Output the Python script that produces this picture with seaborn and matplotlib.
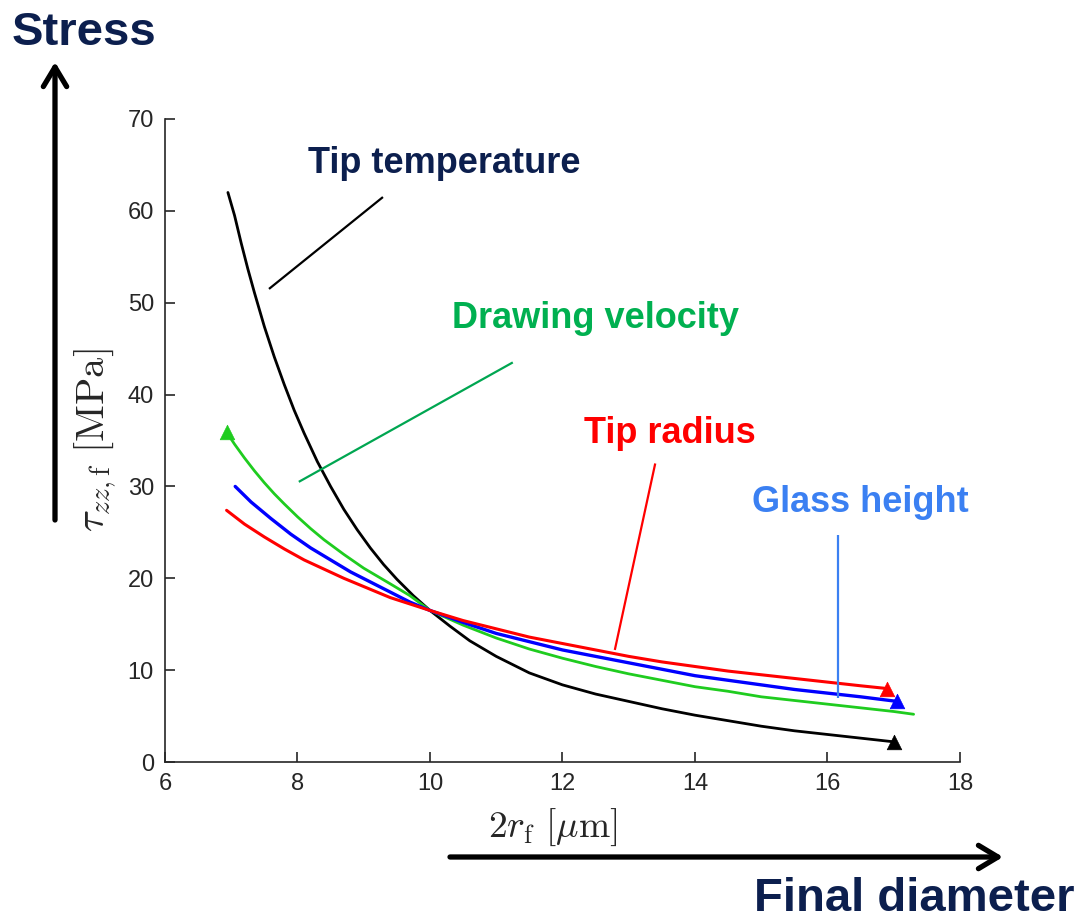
import numpy as np
import pandas as pd
import matplotlib
matplotlib.use('Agg')
import matplotlib.pyplot as plt
import seaborn as sns

# values: final diameter 2r_f [um] vs axial stress [MPa]
temp_d = [6.95, 7.05, 7.15, 7.25, 7.35, 7.5, 7.65, 7.8, 7.95, 8.1, 8.3, 8.5, 8.7, 8.9,
          9.1, 9.3, 9.5, 9.75, 10.0, 10.3, 10.6, 11.0, 11.5, 12.0, 12.5, 13.0, 13.5,
          14.0, 14.5, 15.0, 15.5, 16.0, 16.5, 17.0]
temp_tau = [62.0, 59.5, 56.5, 53.7, 51.1, 47.4, 44.1, 41.1, 38.3, 35.8, 32.7, 30.0, 27.5, 25.3,
            23.3, 21.5, 19.9, 18.1, 16.5, 14.8, 13.2, 11.5, 9.7, 8.4, 7.4, 6.6, 5.8,
            5.1, 4.5, 3.9, 3.4, 3.0, 2.6, 2.2]

vel_d = [6.93, 7.05, 7.2, 7.35, 7.5, 7.65, 7.8, 8.0, 8.2, 8.4, 8.7, 9.0, 9.4, 9.7, 10.0,
         10.5, 11.0, 11.5, 12.0, 12.5, 13.0, 13.5, 14.0, 14.5, 15.0, 15.5, 16.0, 16.5,
         17.0, 17.3]
vel_tau = [35.9, 34.6, 33.1, 31.7, 30.4, 29.2, 28.1, 26.7, 25.4, 24.2, 22.6, 21.1, 19.4, 18.1, 16.5,
           14.9, 13.5, 12.3, 11.3, 10.4, 9.6, 8.9, 8.2, 7.7, 7.1, 6.7, 6.3, 5.9,
           5.5, 5.2]

height_d = [7.06, 7.3, 7.6, 7.9, 8.2, 8.5, 8.8, 9.1, 9.4, 9.7, 10.0, 10.5, 11.0,
            11.5, 12.0, 12.5, 13.0, 13.5, 14.0, 14.5, 15.0, 15.5, 16.0, 16.5, 17.05]
height_tau = [30.0, 28.3, 26.5, 24.8, 23.3, 22.0, 20.7, 19.6, 18.5, 17.4, 16.5, 15.2, 14.0,
              13.1, 12.2, 11.5, 10.8, 10.1, 9.4, 8.9, 8.4, 7.9, 7.5, 7.1, 6.6]

radius_d = [6.93, 7.2, 7.5, 7.8, 8.1, 8.4, 8.7, 9.0, 9.4, 9.7, 10.0, 10.5, 11.0,
            11.5, 12.0, 12.5, 13.0, 13.5, 14.0, 14.5, 15.0, 15.5, 16.0, 16.5, 16.9]
radius_tau = [27.4, 25.9, 24.5, 23.2, 22.0, 21.0, 20.0, 19.1, 17.9, 17.2, 16.5, 15.4, 14.5,
              13.6, 12.9, 12.2, 11.5, 10.9, 10.4, 9.9, 9.5, 9.1, 8.7, 8.3, 8.0]

x_ticks = [6, 8, 10, 12, 14, 16, 18]
y_ticks = [0, 10, 20, 30, 40, 50, 60, 70]

NAVY = '#0c1f4e'

series = [
    # name, d, tau, line colour, width, marker at ('start'/'end')
    ('Tip temperature', temp_d, temp_tau, 'black', 2.0, 'end'),
    ('Drawing velocity', vel_d, vel_tau, '#1fcc1f', 2.0, 'start'),
    ('Glass height', height_d, height_tau, '#0000ff', 2.4, 'end'),
    ('Tip radius', radius_d, radius_tau, '#ff0000', 2.2, 'end'),
]

# label text: (x, baseline y, colour), leader line (x0, y0, x1, y1) in data units
labels = {
    'Tip temperature': ((10.21, 64.1), NAVY, (9.29, 61.5, 7.57, 51.5), 'black'),
    'Drawing velocity': ((12.50, 47.2), '#00b050', (11.25, 43.5, 8.02, 30.5), '#00a651'),
    'Tip radius': ((13.62, 34.7), '#ff0000', (13.40, 32.5, 12.79, 12.2), '#ff0000'),
    'Glass height': ((16.49, 27.2), '#3b80f2', (16.16, 24.7, 16.16, 7.0), '#3b80f2'),
}

sns.set_style('ticks')
plt.rcParams['font.family'] = ['Liberation Sans', 'DejaVu Sans']
plt.rcParams['mathtext.fontset'] = 'cm'

fig = plt.figure(figsize=(10.79, 9.23), dpi=100)
ax = fig.add_axes([0.1529, 0.1744, 0.7368, 0.6967])

for name, d, tau, col, lw, mk in series:
    df = pd.DataFrame({'d': d, 'tau': tau})
    sns.lineplot(data=df, x='d', y='tau', color=col, linewidth=lw, sort=False,
                 estimator=None, ax=ax)
    end = df.iloc[[0]] if mk == 'start' else df.iloc[[-1]]
    sns.scatterplot(data=end, x='d', y='tau', marker='^', s=110, color=col,
                    edgecolor=col, linewidth=0.5, ax=ax, zorder=5)

for name, (pos, tcol, lead, lcol) in labels.items():
    ax.text(pos[0], pos[1], name, ha='center', va='baseline', fontsize=26,
            fontweight='bold', color=tcol)
    ax.plot([lead[0], lead[2]], [lead[1], lead[3]], color=lcol, lw=1.6,
            solid_capstyle='butt')

ax.set_xlim(6, 18)
ax.set_ylim(0, 70)
ax.set_xticks(x_ticks)
ax.set_yticks(y_ticks)
sns.despine(ax=ax)
for s in ['left', 'bottom']:
    ax.spines[s].set_color('#262626')
    ax.spines[s].set_linewidth(1.2)
ax.tick_params(direction='in', length=7, width=1.2, colors='#262626',
               labelsize=17, pad=8)

ax.set_xlabel(r'$2r_{\mathrm{f}}\ [\mu\mathrm{m}]$', fontsize=27, va='top')
ax.xaxis.set_label_coords(0.488, -0.07)
ax.set_ylabel(r'$\tau_{zz,\mathrm{f}}\ [\mathrm{MPa}]$', fontsize=29)
ax.yaxis.set_label_coords(-0.058, 0.5)

# big annotation arrows and captions outside the axes
W, H = 1079.0, 923.0
arrow_kw = dict(arrowstyle='->,head_length=0.7,head_width=0.42', lw=3.8,
                color='black', mutation_scale=20, shrinkA=0, shrinkB=0)
fig.add_artist(matplotlib.patches.FancyArrowPatch(
    (55 / W, 1 - 520 / H), (55 / W, 1 - 62 / H), transform=fig.transFigure, **arrow_kw))
fig.add_artist(matplotlib.patches.FancyArrowPatch(
    (450 / W, 1 - 857 / H), (1003 / W, 1 - 857 / H), transform=fig.transFigure, **arrow_kw))

fig.text(12 / W, 1 - 45 / H, 'Stress', ha='left', va='baseline', fontsize=34,
         fontweight='bold', color=NAVY)
fig.text(1075 / W, 1 - 921 / H, 'Final diameter', ha='right', va='bottom',
         fontsize=34, fontweight='bold', color=NAVY)

fig.savefig('out.png', dpi=100)
